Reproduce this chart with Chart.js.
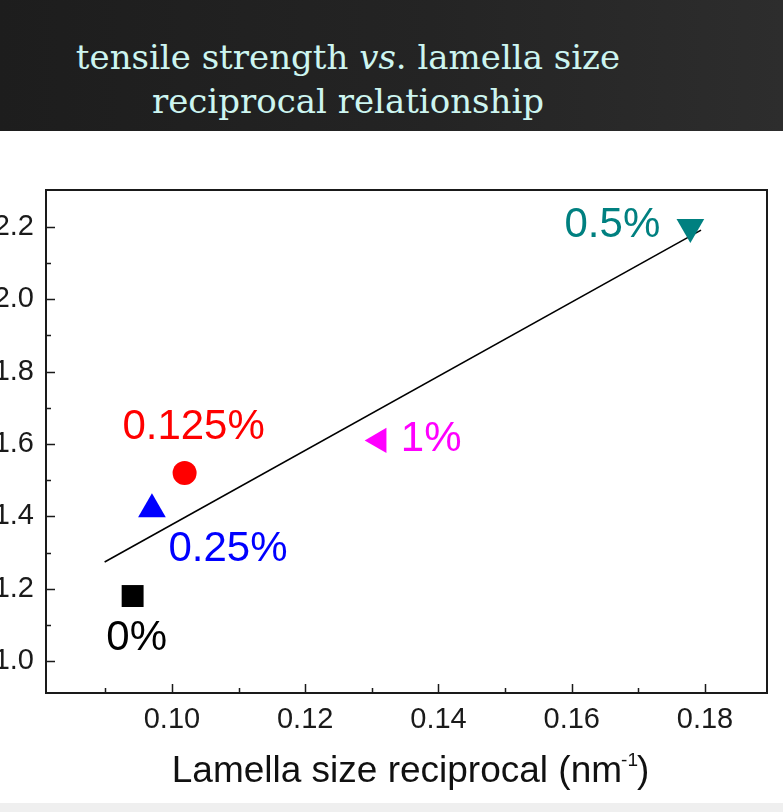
<!DOCTYPE html>
<html>
<head>
<meta charset="utf-8">
<script src="https://cdn.jsdelivr.net/npm/chart.js@4.4.1/dist/chart.umd.min.js"></script>
<style>
html, body { margin: 0; padding: 0; width: 783px; height: 812px; overflow: hidden; background: #fff; }
#cabecera { position: absolute; left: 0; top: 0; width: 783px; height: 131px;
  background: linear-gradient(90deg, #1d1d1d, #242424 55%, #2d2d2d); }
#cabecera div { position: absolute; left: 0; width: 696px; text-align: center; color: #cdf5f0;
  font-family: "DejaVu Serif", serif; font-size: 34px; line-height: 34px; white-space: nowrap; }
#grafico_box { position: absolute; left: 0; top: 131px; width: 783px; height: 681px; }
#pie { position: absolute; left: 0; top: 803px; width: 783px; height: 9px; background: #efefef; }
</style>
</head>
<body>
<div id="cabecera">
  <div style="top:40px">tensile strength <i>vs</i>. lamella size</div>
  <div style="top:84px">reciprocal relationship</div>
</div>
<div id="grafico_box"><canvas id="grafico"></canvas></div>
<div id="pie"></div>
<script>
/*********-datos-*********/
const MUESTRAS = ["0%", "0.125%", "0.25%", "0.5%", "1%"];
const RECIPROCO = [0.0941, 0.1019, 0.0970, 0.1778, 0.1311];   // nm^-1
const RESISTENCIA = [1.18, 1.52, 1.42, 2.20, 1.61];
// recta de ajuste
const AJUSTE_X = [0.0899, 0.1794];
const AJUSTE_Y = [1.274, 2.191];
// ticks
const X_TICKS = [0.10, 0.12, 0.14, 0.16, 0.18];
const X_MENORES = [0.09, 0.11, 0.13, 0.15, 0.17];
const Y_TICKS = [1.0, 1.2, 1.4, 1.6, 1.8, 2.0, 2.2];
const Y_MENORES = [1.1, 1.3, 1.5, 1.7, 1.9, 2.1];
//------------------------------------//

/*********-estilos-*********/
const COLORES = ["#000000", "#ff0000", "#0000ff", "#008080", "#ff00ff"];
const SIMBOLOS = ["rect", "circle", "triangle", "triangle", "triangle"];
const RADIOS = [15.5, 12, 16, 16, 14.5];
const GIROS = [0, 0, 0, 180, -90];
const DESPLAZA = [[4, 42], [9, -46], [76, 40], [-78, -1], [52, -1]]; // etiqueta respecto al punto
const FUENTE = "'Liberation Sans', Arial, sans-serif";
//------------------------------------//

const datasets = MUESTRAS.map((m, i) => ({
  label: m,
  type: "scatter",
  data: [{ x: RECIPROCO[i], y: RESISTENCIA[i] }],
  pointStyle: SIMBOLOS[i],
  pointRadius: RADIOS[i],
  rotation: GIROS[i],
  backgroundColor: COLORES[i],
  borderColor: COLORES[i],
  borderWidth: 0
}));
datasets.push({
  label: "ajuste",
  type: "line",
  data: AJUSTE_X.map((x, i) => ({ x: x, y: AJUSTE_Y[i] })),
  borderColor: "#000",
  borderWidth: 1.6,
  pointRadius: 0,
  fill: false
});

// marco, ticks hacia dentro, etiquetas y titulo del eje x
const extras = {
  id: "extras",
  afterDraw(chart) {
    const ctx = chart.ctx;
    const a = chart.chartArea;
    const sx = chart.scales.x, sy = chart.scales.y;
    ctx.save();
    ctx.strokeStyle = "#1a1a1a";
    ctx.lineWidth = 1.5;
    ctx.beginPath();
    X_TICKS.forEach(v => { const p = Math.round(sx.getPixelForValue(v)) + 0.5; ctx.moveTo(p, a.bottom); ctx.lineTo(p, a.bottom - 9); });
    X_MENORES.forEach(v => { const p = Math.round(sx.getPixelForValue(v)) + 0.5; ctx.moveTo(p, a.bottom); ctx.lineTo(p, a.bottom - 5); });
    Y_TICKS.forEach(v => { const p = Math.round(sy.getPixelForValue(v)) + 0.5; ctx.moveTo(a.left, p); ctx.lineTo(a.left + 9, p); });
    Y_MENORES.forEach(v => { const p = Math.round(sy.getPixelForValue(v)) + 0.5; ctx.moveTo(a.left, p); ctx.lineTo(a.left + 5, p); });
    ctx.stroke();
    ctx.lineWidth = 2;
    ctx.strokeRect(a.left, a.top, a.right - a.left, a.bottom - a.top);

    // etiquetas de las muestras
    ctx.font = "42px " + FUENTE;
    ctx.textAlign = "center";
    ctx.textBaseline = "middle";
    MUESTRAS.forEach((m, i) => {
      const pt = chart.getDatasetMeta(i).data[0];
      ctx.fillStyle = COLORES[i];
      ctx.fillText(m, pt.x + DESPLAZA[i][0], pt.y + DESPLAZA[i][1]);
    });

    // titulo eje x con superindice
    const t1 = "Lamella size reciprocal (nm", sup = "-1", t2 = ")";
    ctx.textAlign = "left";
    ctx.textBaseline = "alphabetic";
    ctx.fillStyle = "#111";
    ctx.font = "37px " + FUENTE;
    const w1 = ctx.measureText(t1).width, w3 = ctx.measureText(t2).width;
    ctx.font = "19px " + FUENTE;
    const w2 = ctx.measureText(sup).width;
    const total = w1 + w2 + w3 - 2;
    let x0 = (a.left + a.right) / 2 + 4 - total / 2;
    const base = a.bottom + 89;
    ctx.font = "37px " + FUENTE;
    ctx.fillText(t1, x0, base);
    ctx.font = "19px " + FUENTE;
    ctx.fillText(sup, x0 + w1 - 1, base - 16);
    ctx.font = "37px " + FUENTE;
    ctx.fillText(t2, x0 + w1 + w2 - 2, base);
    ctx.restore();
  }
};

new Chart(document.getElementById("grafico").getContext("2d"), {
  data: { datasets: datasets },
  options: {
    responsive: true,
    maintainAspectRatio: false,
    animation: false,
    events: [],
    layout: { padding: { left: 0, top: 59, right: 15, bottom: 0 } },
    plugins: { legend: { display: false }, tooltip: { enabled: false } },
    scales: {
      x: {
        type: "linear",
        min: 0.0811,
        max: 0.1893,
        grid: { display: false, drawTicks: false },
        border: { display: false },
        afterBuildTicks: s => { s.ticks = X_TICKS.map(v => ({ value: v })); },
        afterFit: s => { s.height = 119; },
        ticks: {
          padding: 10,
          color: "#1a1a1a",
          font: { family: FUENTE, size: 29 },
          callback: v => v.toFixed(2)
        }
      },
      y: {
        type: "linear",
        min: 0.912,
        max: 2.302,
        grid: { display: false, drawTicks: false },
        border: { display: false },
        afterBuildTicks: s => { s.ticks = Y_TICKS.map(v => ({ value: v })); },
        afterFit: s => { s.width = 46; },
        ticks: {
          padding: 12,
          color: "#1a1a1a",
          font: { family: FUENTE, size: 29 },
          callback: v => v.toFixed(1)
        }
      }
    }
  },
  plugins: [extras]
});
</script>
</body>
</html>
